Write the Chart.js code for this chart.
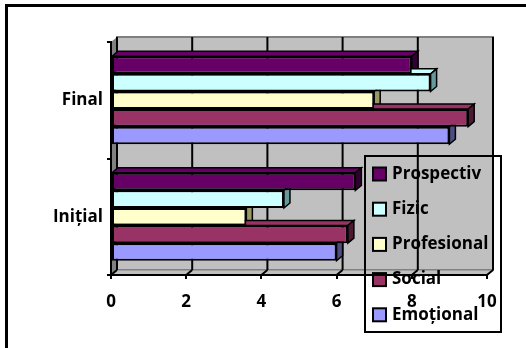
<!DOCTYPE html>
<html>
<head>
<meta charset="utf-8">
<script src="https://cdn.jsdelivr.net/npm/chart.js@4.4.0/dist/chart.umd.min.js"></script>
<style>
html, body { margin: 0; padding: 0; background: #fff; overflow: hidden; }
#wrap { position: relative; width: 526px; height: 348px; }
#frame { position: absolute; left: 5px; top: 4px; width: 600px; height: 400px; border: 3px solid #000; }
#chart { position: absolute; left: 0; top: 0; }
</style>
</head>
<body>
<div id="wrap">
  <div id="frame"></div>
  <canvas id="chart" width="526" height="348"></canvas>
</div>
<script>
// ================== Data ==================
const categories = ['Final', 'Inițial'];
const seriesNames = ['Prospectiv', 'Fizic', 'Profesional', 'Social', 'Emoțional'];
const prospectiv = [8, 6.5];
const fizic = [8.5, 4.6];
const profesional = [7, 3.6];
const social = [9.5, 6.3];
const emotional = [9, 6];
const xTicks = [0, 2, 4, 6, 8, 10];

// ================== Styles ==================
const fills = ['#660066', '#CCFFFF', '#FFFFCC', '#993366', '#9999FF'];
const sides = ['#330033', '#669999', '#999966', '#4d1a33', '#4d4d80'];
const DX = 6, DY = 5;           // 3D depth offset
const FONT = { family: 'Open Sans', weight: 'bold', size: 17 };

function poly(ctx, pts, fill, stroke, lw){
  ctx.beginPath();
  ctx.moveTo(pts[0][0], pts[0][1]);
  for(let k = 1; k < pts.length; k++) ctx.lineTo(pts[k][0], pts[k][1]);
  ctx.closePath();
  if(fill){ ctx.fillStyle = fill; ctx.fill(); }
  if(stroke){ ctx.strokeStyle = stroke; ctx.lineWidth = lw || 1; ctx.stroke(); }
}

// walls, gridlines and legend go under the axes; bar side faces under the bars
const excel3d = {
  id: 'excel3d',
  beforeDraw(chart){
    const { ctx, chartArea: a, scales: { x } } = chart;
    ctx.save();
    // back wall
    ctx.fillStyle = '#c0c0c0';
    ctx.fillRect(a.left + DX, a.top - DY, a.right - a.left, a.bottom - a.top);
    ctx.strokeStyle = '#808080'; ctx.lineWidth = 2;
    ctx.strokeRect(a.left + DX, a.top - DY, a.right - a.left, a.bottom - a.top);
    // side wall + floor
    poly(ctx, [[a.left, a.top], [a.left + DX, a.top - DY], [a.left + DX, a.bottom - DY], [a.left, a.bottom]], '#808080');
    poly(ctx, [[a.left, a.bottom], [a.left + DX, a.bottom - DY], [a.right + DX, a.bottom - DY], [a.right, a.bottom]], '#c0c0c0', '#808080', 1);
    // gridlines on the back wall and floor
    ctx.strokeStyle = '#000'; ctx.lineWidth = 2;
    x.ticks.forEach(t => {
      const px = x.getPixelForValue(t.value);
      ctx.beginPath();
      ctx.moveTo(px + DX, a.top - DY); ctx.lineTo(px + DX, a.bottom - DY);
      ctx.moveTo(px, a.bottom); ctx.lineTo(px + DX, a.bottom - DY);
      ctx.stroke();
    });
    // legend (no fill, as in the original)
    const lg = { left: 365, top: 156, width: 136, height: 176, step: 35.2 };
    ctx.strokeStyle = '#000'; ctx.lineWidth = 2;
    ctx.strokeRect(lg.left, lg.top, lg.width, lg.height);
    ctx.font = `${FONT.weight} ${FONT.size}px "${FONT.family}"`;
    ctx.textBaseline = 'middle'; ctx.textAlign = 'left';
    chart.data.datasets.forEach((ds, i) => {
      const cy = lg.top + 18 + i * lg.step;
      ctx.fillStyle = ds.backgroundColor;
      ctx.fillRect(lg.left + 8, cy - 6.5, 13, 13);
      ctx.strokeRect(lg.left + 8, cy - 6.5, 13, 13);
      ctx.fillStyle = '#000';
      ctx.fillText(ds.label, lg.left + 27, cy);
    });
    ctx.restore();
  },
  beforeDatasetsDraw(chart){
    const { ctx } = chart;
    ctx.save();
    chart.data.datasets.forEach((ds, i) => {
      chart.getDatasetMeta(i).data.forEach(bar => {
        const { x, y, base, height } = bar.getProps(['x', 'y', 'base', 'height'], true);
        const top = y - height / 2, bottom = y + height / 2;
        poly(ctx, [[base, top], [base + DX, top - DY], [x + DX, top - DY], [x, top]], fills[i], '#000', 1.5);
        poly(ctx, [[x, top], [x + DX, top - DY], [x + DX, bottom - DY], [x, bottom]], sides[i], '#000', 1.5);
      });
    });
    ctx.restore();
  }
};

// ================== Chart ==================
const seriesValues = [prospectiv, fizic, profesional, social, emotional];
const datasets = seriesNames.map((name, i) => ({
  label: name,
  data: seriesValues[i],
  backgroundColor: fills[i],
  borderColor: '#000',
  borderWidth: 2,
  borderSkipped: false,
  barPercentage: 1,
  categoryPercentage: 0.755
}));

Chart.defaults.font.family = FONT.family;

new Chart(document.getElementById('chart'), {
  type: 'bar',
  data: { labels: categories, datasets },
  plugins: [excel3d],
  options: {
    indexAxis: 'y',
    responsive: false,
    devicePixelRatio: 1,
    animation: false,
    layout: { padding: { top: 42, right: 39, left: 0, bottom: 0 } },
    plugins: { legend: { display: false }, tooltip: { enabled: false } },
    scales: {
      x: {
        min: 0, max: 10,
        afterBuildTicks: s => { s.ticks = xTicks.map(v => ({ value: v })); },
        afterFit: s => { s.height = 73; },
        grid: { display: true, drawOnChartArea: false, drawTicks: true, tickLength: 4, color: '#000', lineWidth: 2 },
        border: { display: true, color: '#000', width: 2 },
        ticks: { color: '#000', font: FONT, padding: 13, maxRotation: 0 }
      },
      y: {
        afterFit: s => { s.width = 111; },
        grid: { display: true, offset: true, drawOnChartArea: false, drawTicks: true, tickLength: 4, color: '#000', lineWidth: 2 },
        border: { display: true, color: '#000', width: 2 },
        ticks: { color: '#000', font: FONT, padding: 4 }
      }
    }
  }
});
</script>
</body>
</html>
